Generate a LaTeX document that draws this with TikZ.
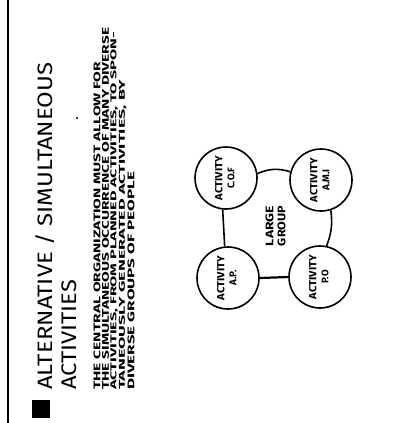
\documentclass[tikz,border=0pt]{standalone}
\usepackage{fontspec}
\setmainfont{Fira Sans}
\usepackage{graphicx}
\newcommand\fitline[3]{\rotatebox{90}{\resizebox*{#1}{#2}{#3}}}
\begin{document}
\begin{tikzpicture}[x=1pt,y=-1pt,
  txt/.style={inner sep=0pt, anchor=south},
  act/.style={draw, circle, line width=1.6pt, minimum size=62pt, inner sep=0pt},
  link/.style={line width=1.6pt}]
\useasboundingbox (0,0) rectangle (393,423);
% left border line
\coordinate (lt) at (8,0);
\coordinate (lb) at (8,423);
\draw[line width=1.2pt] (lt) -- (lb);
% black square bullet
\fill (32,400) rectangle (50,418);
% title
\node[txt] (title) at (45,390) {\fitline{327pt}{19pt}{ALTERNATIVE / SIMULTANEOUS}};
\node[txt] (title2) at (69,390) {\fitline{110pt}{15pt}{ACTIVITIES}};
% dot
\fill (77,118) circle (1.1pt);
% paragraph
\node[txt] (p1) at (97,390) {\fitline{328pt}{7pt}{\bfseries THE CENTRAL ORGANIZATION MUST ALLOW FOR}};
\node[txt] (p2) at (105.5,390) {\fitline{362pt}{7pt}{\bfseries THE SIMULTANEOUS OCCURRENCE OF MANY DIVERSE}};
\node[txt] (p3) at (114,390) {\fitline{358pt}{7.5pt}{\bfseries ACTIVITIES, FROM PLANNED ACTIVITIES, TO SPON-}};
\node[txt] (p4) at (122.5,390) {\fitline{310pt}{7.5pt}{\bfseries TANEOUSLY GENERATED ACTIVITIES, BY}};
\node[txt] (p5) at (131,390) {\fitline{218pt}{7pt}{\bfseries DIVERSE GROUPS OF PEOPLE}};
% activity circles
\newcommand\actlab[1]{\rotatebox{90}{\begin{tabular}{@{}c@{}}\resizebox*{44pt}{7.5pt}{\bfseries ACTIVITY}\\[0pt]\resizebox*{!}{7pt}{\bfseries #1}\end{tabular}}}
\node[act] (tl) at (226,178) {\actlab{C.O.F}};
\node[act] (bl) at (228,278) {\actlab{A.P.}};
\node[act] (tr) at (321,180) {\actlab{A.M.I}};
\node[act] (br) at (320,277) {\actlab{P.O}};
% centre
\node[inner sep=0pt] (lg) at (277,226) {\rotatebox{90}{\begin{tabular}{@{}c@{}}\resizebox*{40pt}{8pt}{\bfseries LARGE}\\[0pt]\resizebox*{40pt}{8pt}{\bfseries GROUP}\end{tabular}}};
% connectors
\draw[link] (tl.8) to[bend left=20] (tr.165);
\draw[link] (tr.-72) to[bend left=14] (br.78);
\draw[line width=2.2pt] (bl.east) -- (br.west);
\draw[link] (tl.-96) -- (bl.96);
\end{tikzpicture}
\end{document}
